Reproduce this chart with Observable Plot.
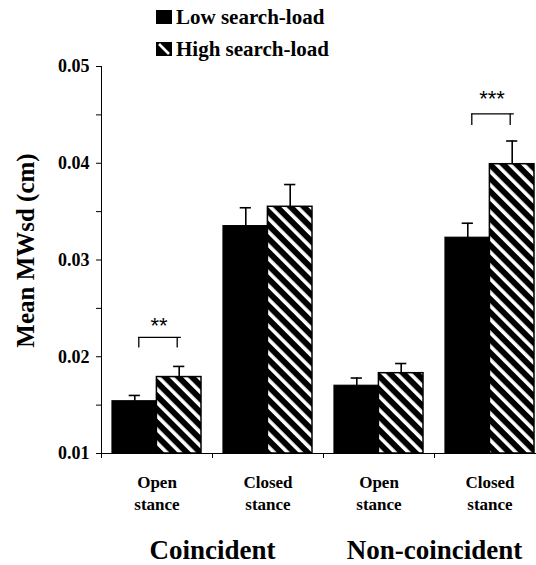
<!DOCTYPE html>
<html><head><meta charset="utf-8">
<script src="https://cdn.jsdelivr.net/npm/d3@7"></script>
<script src="https://cdn.jsdelivr.net/npm/@observablehq/plot@0.6"></script>
<style>
body{margin:0;background:#fff;font-family:"Liberation Serif","Times New Roman",serif;}
#wrap{width:536px;height:565px;overflow:hidden;position:relative;}
#legend{position:relative;height:60px;width:536px;}
.sw{position:absolute;left:156px;width:16px;height:14px;}
.lt{position:absolute;left:176px;font-weight:bold;font-size:21px;line-height:1;white-space:nowrap;}
#chart svg text{font-family:"Liberation Serif","Times New Roman",serif;}
#chart svg .sig text{font-family:"Liberation Sans",Arial,sans-serif;}
</style></head>
<body><div id="wrap"><div id="legend"></div><div id="chart"></div></div>
<script>
// ---- data ----
const conditions = ["Coincident", "Coincident", "Non-coincident", "Non-coincident"];
const stances = ["Open stance", "Closed stance", "Open stance", "Closed stance"];
const loads = ["Low search-load", "High search-load"];
const lowMean = [0.0154, 0.0335, 0.0170, 0.0323];
const lowErr = [0.0006, 0.0019, 0.0008, 0.0015];
const highMean = [0.0179, 0.0355, 0.0183, 0.0399];
const highErr = [0.0011, 0.0023, 0.0010, 0.0024];
const yTicks = [0.01, 0.02, 0.03, 0.04, 0.05];
const yMinorTicks = [0.015, 0.025, 0.035, 0.045];
const sigIndex = [0, 3];
const sigLabels = ["**", "***"];
const sigBracketTop = [0.0220, 0.0451];
const sigBracketLeg = [0.0209, 0.0439];
const sigTextY = [0.0232, 0.0466];
const yLabel = "Mean MWsd (cm)";
const groupNames = ["Coincident", "Non-coincident"];

// ---- legend ----
const legend = document.getElementById("legend");
loads.forEach((name, i) => {
  const top = i === 0 ? 10 : 42;
  const sw = document.createElementNS("http://www.w3.org/2000/svg", "svg");
  sw.setAttribute("class", "sw");
  sw.style.top = top + "px";
  sw.setAttribute("viewBox", "0 0 16 14");
  sw.innerHTML = i === 0
    ? '<rect x="0.5" y="0.5" width="15" height="13" fill="#000" stroke="#000"/>'
    : '<rect x="0.5" y="0.5" width="15" height="13" fill="#000" stroke="#000"/><line x1="3" y1="2" x2="13" y2="12" stroke="#fff" stroke-width="2.6"/>';
  legend.appendChild(sw);
  const t = document.createElement("div");
  t.className = "lt";
  t.style.top = (top - 3) + "px";
  t.textContent = name;
  legend.appendChild(t);
});

// ---- table ----
const keys = conditions.map((c, i) => c + "|" + stances[i]);
const rows = [];
keys.forEach((k, i) => {
  rows.push({key: k, load: loads[0], mean: lowMean[i], err: lowErr[i]});
  rows.push({key: k, load: loads[1], mean: highMean[i], err: highErr[i]});
});
const low = rows.filter(d => d.load === loads[0]);
const high = rows.filter(d => d.load === loads[1]);
const sig = sigIndex.map((k, i) => ({key: keys[k], label: sigLabels[i], top: sigBracketTop[i], leg: sigBracketLeg[i], ty: sigTextY[i]}));
const groups = groupNames.map((g, i) => ({key: keys[i * 2], name: g}));

const xRange = [101, 545];
const step = (xRange[1] - xRange[0]) / keys.length;
const bw = step * 0.8;
const half = bw / 2;
const cap = 5.5;
const serif = "'Liberation Serif', 'Times New Roman', serif";

const chart = Plot.plot({
  width: 536,
  height: 505,
  marginTop: 6,
  marginBottom: 112,
  marginLeft: 101,
  marginRight: 0,
  style: {color: "black", background: "white", fontFamily: serif},
  x: {domain: keys, range: xRange, paddingInner: 0.2, paddingOuter: 0.1, axis: null, label: null},
  y: {domain: [0.01, 0.05], axis: null, label: null},
  marks: [
    Plot.barY(low, {x: "key", y1: 0.01, y2: "mean", insetRight: half, fill: "black", stroke: "black", strokeWidth: 1.2}),
    Plot.barY(high, {x: "key", y1: 0.01, y2: "mean", insetLeft: half, fill: "url(#hatch)", stroke: "black", strokeWidth: 1.5}),
    Plot.ruleX(low, {x: "key", y1: "mean", y2: d => d.mean + d.err, dx: -half / 2, strokeWidth: 1.6}),
    Plot.ruleX(high, {x: "key", y1: "mean", y2: d => d.mean + d.err, dx: half / 2, strokeWidth: 1.6}),
    Plot.tickY(low, {x: "key", y: d => d.mean + d.err, insetLeft: half / 2 - cap, insetRight: bw - half / 2 - cap, strokeWidth: 1.6}),
    Plot.tickY(high, {x: "key", y: d => d.mean + d.err, insetLeft: bw - half / 2 - cap, insetRight: half / 2 - cap, strokeWidth: 1.6}),
    // significance brackets
    Plot.tickY(sig, {x: "key", y: "top", insetLeft: half / 2 + 4, insetRight: half / 2 - 2, strokeWidth: 1.3}),
    Plot.ruleX(sig, {x: "key", y1: "top", y2: "leg", dx: -half / 2 + 4, strokeWidth: 1.3}),
    Plot.ruleX(sig, {x: "key", y1: "top", y2: "leg", dx: half / 2 - 2, strokeWidth: 1.3}),
    Plot.text(sig, {x: "key", y: "ty", text: "label", dx: 2, fontSize: 22, className: "sig", lineAnchor: "middle"}),
    // axes
    Plot.ruleY([0.01], {strokeWidth: 1}),
    Plot.frame({anchor: "left", strokeWidth: 1}),
    Plot.axisY({ticks: yMinorTicks, tickSize: 5, tickFormat: () => "", label: null}),
    Plot.axisY({ticks: yTicks, tickSize: 5, tickPadding: 7, tickFormat: d3.format(".2f"), fontSize: 18, fontWeight: "bold", label: null}),
    Plot.axisX({ticks: keys, tickSize: 5, tickFormat: () => "", dx: -step / 2, label: null}),
    Plot.text(keys, {x: d => d, text: (d, i) => stances[i].replace(" ", "\n"), frameAnchor: "bottom", lineAnchor: "top", dy: 19, lineHeight: 1.3, fontSize: 17, fontWeight: "bold"}),
    Plot.text(groups, {x: "key", text: "name", dx: step / 2, frameAnchor: "bottom", lineAnchor: "top", dy: 86, fontSize: 27, fontWeight: "bold"}),
    Plot.text([yLabel], {text: d => d, frameAnchor: "left", textAnchor: "middle", dx: -76, dy: -9.5, rotate: -90, fontSize: 25, fontWeight: "bold"})
  ]
});
chart.insertAdjacentHTML("afterbegin",
  '<defs><pattern id="hatch" patternUnits="userSpaceOnUse" width="9.5" height="9.5" patternTransform="rotate(-45)">' +
  '<rect width="9.5" height="9.5" fill="black"/><rect x="0" y="0" width="3.6" height="9.5" fill="white"/></pattern></defs>');
chart.style.overflow = "visible";
document.getElementById("chart").appendChild(chart);
</script>
</body></html>
